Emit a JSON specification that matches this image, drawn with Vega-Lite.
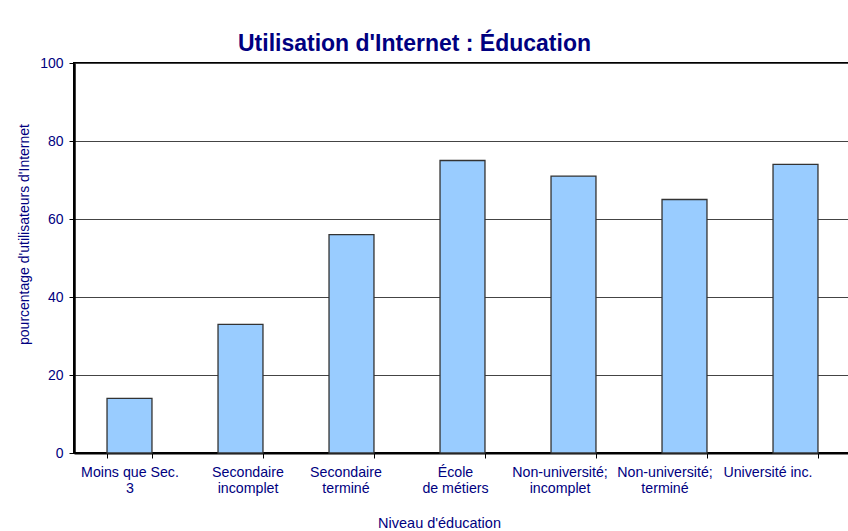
{
  "$schema": "https://vega.github.io/schema/vega-lite/v6.json",
  "width": 777,
  "height": 390,
  "autosize": {"type": "none"},
  "padding": {"left": 74, "top": 63, "right": 0, "bottom": 78},
  "background": "white",
  "title": {
    "text": "Utilisation d'Internet : Éducation",
    "font": "Liberation Sans",
    "fontSize": 23,
    "fontWeight": "bold",
    "color": "#000080",
    "anchor": "middle",
    "dx": -48,
    "dy": 30,
    "offset": 12,
    "baseline": "alphabetic"
  },
  "data": {
    "values": [
      {"niveau": "Moins que Sec.|3", "pourcentage": 14},
      {"niveau": "Secondaire|incomplet", "pourcentage": 33},
      {"niveau": "Secondaire|terminé", "pourcentage": 56},
      {"niveau": "École|de métiers", "pourcentage": 75},
      {"niveau": "Non-université;|incomplet", "pourcentage": 71},
      {"niveau": "Non-université;|terminé", "pourcentage": 65},
      {"niveau": "Université inc.", "pourcentage": 74}
    ]
  },
  "mark": {"type": "bar", "fill": "#99CCFF", "stroke": "#333333", "strokeWidth": 1.3},
  "encoding": {
    "x": {
      "field": "niveau",
      "type": "nominal",
      "sort": null,
      "scale": {"paddingInner": 0.595, "paddingOuter": 0.2975},
      "axis": {
        "title": "Niveau d'éducation",
        "titleFont": "Liberation Sans",
        "titleFontSize": 14.5,
        "titleFontWeight": "normal",
        "titleColor": "#000080",
        "titleX": 365,
        "titleY": 74,
        "titleAlign": "center",
        "titleBaseline": "alphabetic",
        "labelExpr": "split(datum.label, '|')",
        "labelAngle": 0,
        "labelFont": "Liberation Sans",
        "labelFontSize": 14.2,
        "labelColor": "#000080",
        "labelLineHeight": 16,
        "labelBaseline": "top",
        "labelPadding": 7,
        "labelOverlap": false,
        "labelBound": false,
        "labelFlush": false,
        "labelOffset": {
          "condition": [
            {"test": "datum.value === 'Secondaire|incomplet'", "value": 7},
            {"test": "datum.value === 'Secondaire|terminé'", "value": -6},
            {"test": "datum.value === 'École|de métiers'", "value": -7.5},
            {"test": "datum.value === 'Non-université;|incomplet'", "value": -14},
            {"test": "datum.value === 'Non-université;|terminé'", "value": -20},
            {"test": "datum.value === 'Université inc.'", "value": -28}
          ],
          "value": 0
        },
        "tickBand": "extent",
        "tickSize": 5,
        "tickColor": "#000000",
        "tickWidth": 1,
        "domainColor": "#000000",
        "domainWidth": 2,
        "grid": false
      }
    },
    "y": {
      "field": "pourcentage",
      "type": "quantitative",
      "scale": {"domain": [0, 100]},
      "axis": {
        "values": [0, 20, 40, 60, 80, 100],
        "title": "pourcentage d'utilisateurs d'Internet",
        "titleFont": "Liberation Sans",
        "titleFontSize": 14,
        "titleFontWeight": "normal",
        "titleColor": "#000080",
        "titleX": -46,
        "titleY": 171,
        "titleAlign": "center",
        "titleAngle": -90,
        "titleBaseline": "alphabetic",
        "labelFont": "Liberation Sans",
        "labelFontSize": 14,
        "labelColor": "#000080",
        "labelPadding": 6,
        "tickSize": 5,
        "tickColor": "#000000",
        "domainColor": "#000000",
        "domainWidth": 2.5,
        "grid": true,
        "gridColor": "#444444",
        "gridWidth": 1
      }
    }
  },
  "config": {
    "view": {"stroke": "#000000", "strokeWidth": 2}
  }
}
